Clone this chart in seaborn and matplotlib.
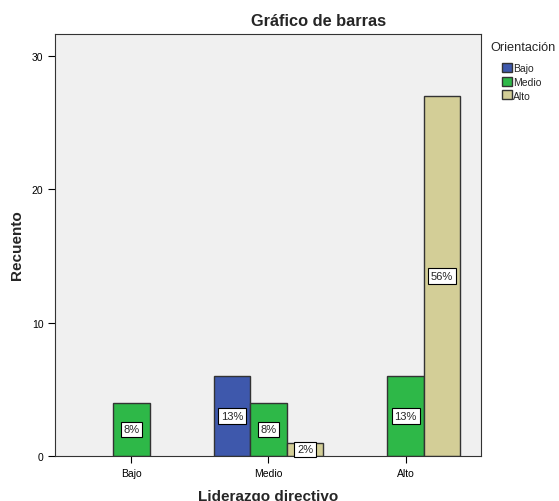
import pandas as pd
import matplotlib
matplotlib.use("Agg")
import matplotlib.pyplot as plt
import seaborn as sns

# data
liderazgo = ["Bajo", "Medio", "Medio", "Medio", "Alto", "Alto"]
orientacion = ["Medio", "Bajo", "Medio", "Alto", "Medio", "Alto"]
recuento = [4, 6, 4, 1, 6, 27]
porcentaje = ["8%", "13%", "8%", "2%", "13%", "56%"]

cat_order = ["Bajo", "Medio", "Alto"]
hue_order = ["Bajo", "Medio", "Alto"]
colores = ["#3e58ac", "#2eb848", "#d3ce97"]

df = pd.DataFrame({"Liderazgo": liderazgo, "Orientacion": orientacion,
                   "Recuento": recuento, "pct": porcentaje})

sns.set_style("white")
plt.rcParams["font.family"] = ["Liberation Sans", "DejaVu Sans"]

fig = plt.figure(figsize=(5.59, 5.02), dpi=100)
ax = fig.add_axes([55.3 / 559, 1 - 457 / 502, (481 - 55.3) / 559, (457 - 34.7) / 502])
ax.set_facecolor("#f0f0f0")

sns.barplot(data=df, x="Liderazgo", y="Recuento", hue="Orientacion",
            order=cat_order, hue_order=hue_order, palette=colores, saturation=1,
            edgecolor="#333333", linewidth=1.0, width=0.8, ax=ax)

# percentage boxes in the middle of each bar
for i, nivel in enumerate(hue_order):
    sub = df[df["Orientacion"] == nivel].copy()
    sub["ord"] = sub["Liderazgo"].map(cat_order.index)
    sub = sub.sort_values("ord")
    ax.bar_label(ax.containers[i], labels=list(sub["pct"]), label_type="center",
                 fontsize=8,
                 bbox=dict(boxstyle="square,pad=0.25", facecolor="white",
                           edgecolor="black", linewidth=0.8))

ax.set_xlim(-0.555, 2.55)
ax.set_ylim(0, 31.65)
ax.set_yticks([0, 10, 20, 30])
ax.tick_params(axis="both", direction="out", length=5, width=0.8, labelsize=7.5,
               colors="black", bottom=True, left=True)
for s in ax.spines.values():
    s.set_color("#333333")
    s.set_linewidth(0.8)

ax.set_xlabel("Liderazgo directivo", fontsize=11, fontweight="bold")
ax.set_ylabel("Recuento", fontsize=11, fontweight="bold")
ax.xaxis.set_label_coords(0.5, -0.077)
ax.yaxis.set_label_coords(-0.0735, 0.502)

fig.text(319 / 559, 1 - 22 / 502, "Gráfico de barras", ha="center", va="center",
         fontsize=11.8, fontweight="bold")

handles, labels = ax.get_legend_handles_labels()
fig.text(490 / 559, 1 - 48 / 502, "Orientación", ha="left", va="center", fontsize=9.2)
ax.legend(handles, labels, loc="upper left",
          bbox_to_anchor=(502 / 559, 1 - 64 / 502), bbox_transform=fig.transFigure,
          frameon=False, fontsize=7.5,
          handlelength=0.95, handleheight=0.95, handletextpad=0.15,
          labelspacing=0.35, borderaxespad=0, borderpad=0)

fig.savefig("out.png", dpi=100)
